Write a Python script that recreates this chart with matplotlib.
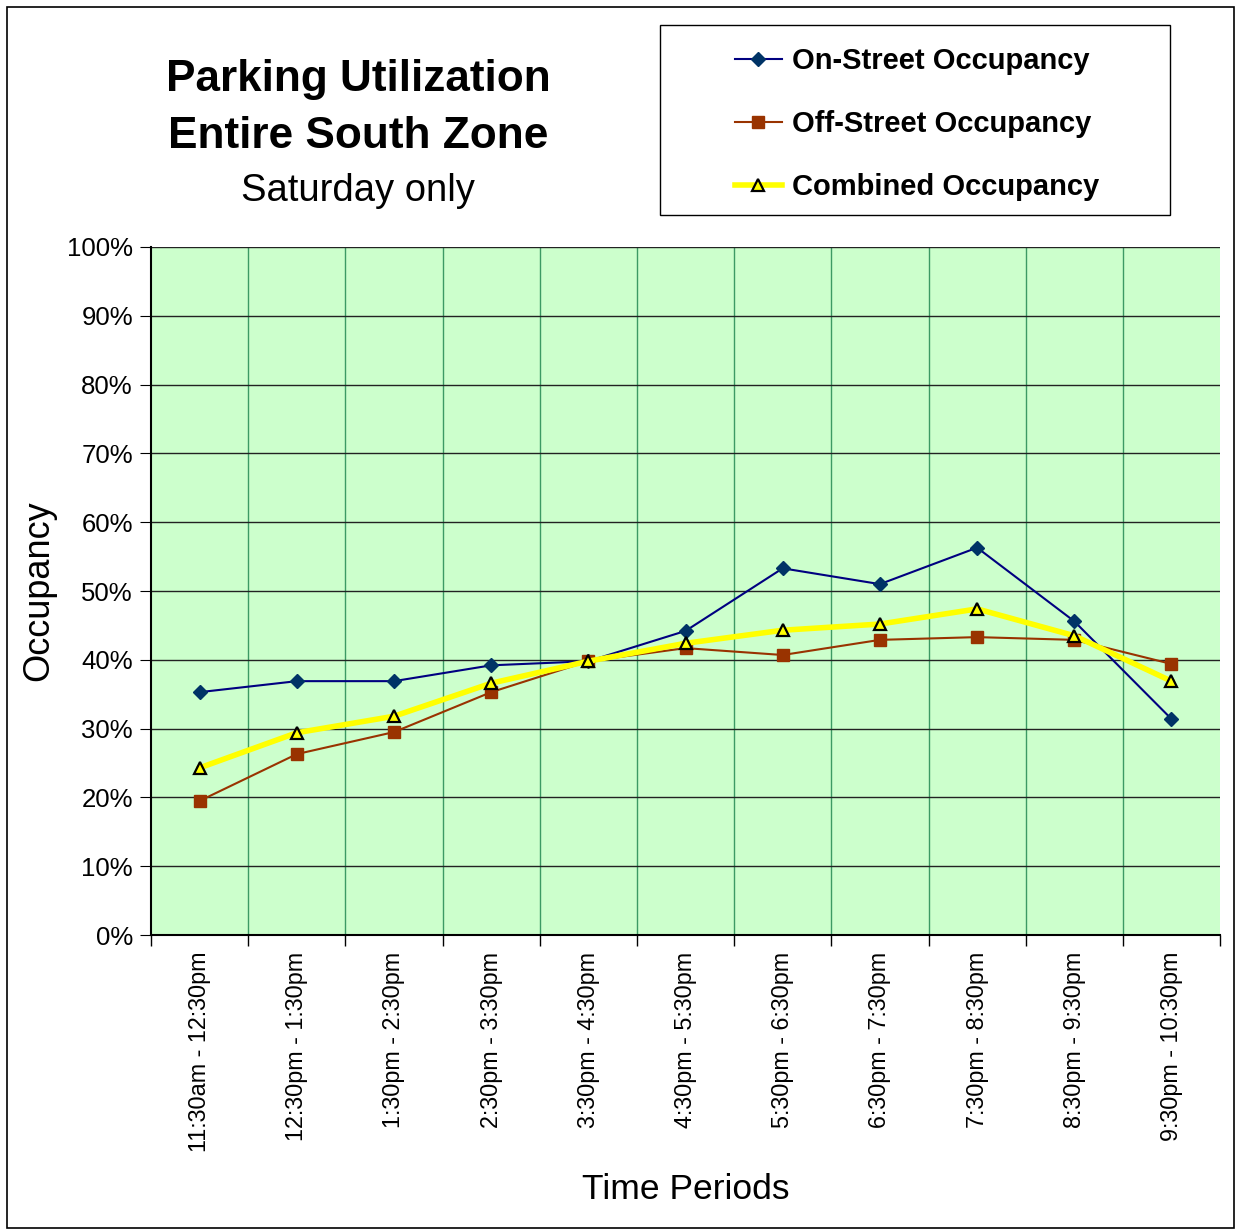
"""Parking utilization chart, Entire South Zone, Saturday only."""

import matplotlib.pyplot as plt
from matplotlib.patches import Rectangle
from matplotlib.ticker import PercentFormatter, MultipleLocator

plt.rcParams["font.family"] = ["Liberation Sans", "DejaVu Sans"]

periods = [
    "11:30am - 12:30pm",
    "12:30pm - 1:30pm",
    "1:30pm - 2:30pm",
    "2:30pm - 3:30pm",
    "3:30pm - 4:30pm",
    "4:30pm - 5:30pm",
    "5:30pm - 6:30pm",
    "6:30pm - 7:30pm",
    "7:30pm - 8:30pm",
    "8:30pm - 9:30pm",
    "9:30pm - 10:30pm",
]
on_street = [35.3, 36.9, 36.9, 39.2, 39.8, 44.2, 53.3, 51.0, 56.3, 45.6, 31.4]
off_street = [19.5, 26.3, 29.5, 35.3, 39.8, 41.7, 40.7, 42.9, 43.3, 42.9, 39.4]
combined = [24.3, 29.4, 31.8, 36.6, 39.8, 42.4, 44.3, 45.2, 47.4, 43.5, 36.9]

fig = plt.figure(figsize=(12.35, 12.30), dpi=100)
ax = fig.add_axes([0.1223, 0.2398, 0.8656, 0.5594])
ax.set_facecolor("#CCFFCC")

x = list(range(len(periods)))
ax.plot(x, on_street, color="#000080", lw=1.5, marker="D", ms=7,
        mfc="#003366", mec="#003366", label="On-Street Occupancy", zorder=3)
ax.plot(x, off_street, color="#993300", lw=1.5, marker="s", ms=8,
        mfc="#993300", mec="#993300", label="Off-Street Occupancy", zorder=3)
ax.plot(x, combined, color="#FFFF00", lw=4, marker="^", ms=9,
        mfc="#FFFF00", mec="black", mew=1.6, label="Combined Occupancy",
        zorder=4)

ax.set_xlim(-0.5, len(periods) - 0.5)
ax.set_ylim(0, 100)
ax.yaxis.set_major_locator(MultipleLocator(10))
ax.yaxis.set_major_formatter(PercentFormatter(decimals=0))

# category boundaries get the vertical grid lines and ticks
bounds = [i - 0.5 for i in range(len(periods) + 1)]
ax.set_xticks(bounds)
ax.set_xticklabels([])
ax.set_xticks(x, minor=True)
ax.set_xticklabels(periods, minor=True, rotation=90, fontsize=16.8)
ax.tick_params(axis="x", which="minor", length=0, pad=12)
ax.tick_params(axis="x", which="major", length=8, width=1, direction="out")
ax.tick_params(axis="y", labelsize=18.5, length=8, direction="out", pad=5)

for b in bounds[1:-1]:
    ax.axvline(b, color="#3C9A64", lw=1, zorder=1)
for v in range(10, 101, 10):
    ax.axhline(v, color="#222222", lw=1, zorder=1)

for side in ["top", "right"]:
    ax.spines[side].set_visible(False)
ax.spines["left"].set_linewidth(1.5)
ax.spines["bottom"].set_linewidth(1.5)

ax.set_ylabel("Occupancy", fontsize=26, labelpad=8)
ax.set_xlabel("Time Periods", fontsize=25.5, labelpad=15)

fig.text(358 / 1235, 1 - 80 / 1230, "Parking Utilization", fontsize=31.8,
         fontweight="bold", ha="center", va="center")
fig.text(358 / 1235, 1 - 136 / 1230, "Entire South Zone", fontsize=31.8,
         fontweight="bold", ha="center", va="center")
fig.text(358 / 1235, 1 - 191 / 1230, "Saturday only", fontsize=27.5,
         ha="center", va="center")

# legend box drawn separately so it can be wider than its contents
fig.patches.append(Rectangle((660 / 1235, 1 - 215 / 1230), 510 / 1235,
                             190 / 1230, transform=fig.transFigure,
                             fill=True, facecolor="white",
                             edgecolor="black", lw=1))
fig.legend(loc="upper left", bbox_to_anchor=(735 / 1235, 1 - 47 / 1230),
           borderaxespad=0, frameon=False,
           prop={"weight": "bold", "size": 21},
           labelspacing=1.2, handlelength=1.6, borderpad=0,
           handletextpad=0.35)

fig.patches.append(Rectangle((7 / 1235, 2 / 1230), 1 - 8 / 1235, 1 - 9 / 1230,
                             transform=fig.transFigure, fill=False,
                             edgecolor="black", lw=1.2))

fig.savefig("out.png", dpi=100)
